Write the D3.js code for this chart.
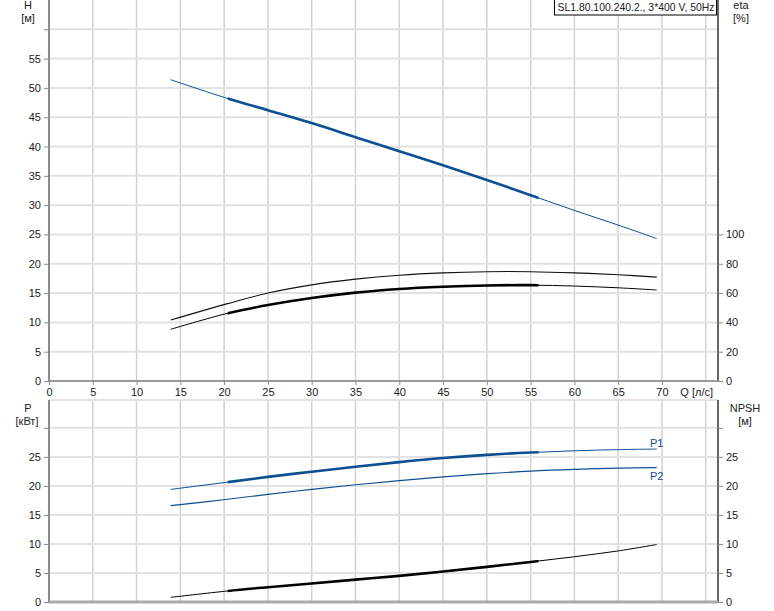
<!DOCTYPE html>
<html><head><meta charset="utf-8">
<script src="https://cdn.jsdelivr.net/npm/d3@7"></script>
<style>body{margin:0;background:#fff}svg{display:block}text{font-family:"Liberation Sans",Arial,sans-serif;font-size:11px;fill:#222}</style>
</head><body><svg id="c" width="774" height="611"></svg>
<script>
const title = "SL1.80.100.240.2., 3*400 V, 50Hz";
const qTicks = [0,5,10,15,20,25,30,35,40,45,50,55,60,65,70];
const hTicks = [0,5,10,15,20,25,30,35,40,45,50,55];
const etaTicks = [0,20,40,60,80,100];
const pTicks = [0,5,10,15,20,25];
const Q = [13.9,20.4,25,30,35,40,45,50,55,60,65,69.4];
const H = [51.4,48.2,46.2,44.0,41.6,39.2,36.8,34.3,31.7,29.1,26.6,24.3];
const etaUpper = [41.6,52.8,60.0,65.6,69.5,72.2,73.8,74.6,74.6,73.8,72.5,70.9];
const etaLower = [35.3,46.2,51.8,56.6,60.3,62.8,64.3,65.2,65.4,64.8,63.6,62.1];
const P1 = [19.4,20.65,21.55,22.45,23.3,24.1,24.8,25.35,25.75,26.05,26.25,26.35];
const P2 = [16.6,17.7,18.55,19.4,20.2,20.9,21.55,22.1,22.55,22.85,23.05,23.15];
const NPSH = [0.8,1.9,2.55,3.2,3.85,4.5,5.25,6.05,6.9,7.8,8.8,9.9];
const opRange = [20.4,55.9];

const svg = d3.select("#c");
const L = 49, R = 718;
const x = d3.scaleLinear().domain([0,76.4]).range([L,R]);
const yH = d3.scaleLinear().domain([0,65]).range([381,0]);
const yEta = d3.scaleLinear().domain([0,260]).range([381,0]);
const yP = d3.scaleLinear().domain([0,34.8]).range([602,400]);

const blue = "#0d4f93", gridV = "#d2d2d2", gridH = "#e2e2e2", axisC = "#8a8a8a";

function grid(yScale, top, bottom, hVals){
  const g = svg.append("g");
  g.selectAll(".v").data(qTicks.slice(1).concat([75])).enter().append("line")
    .attr("x1",d=>x(d)).attr("x2",d=>x(d)).attr("y1",top).attr("y2",bottom)
    .attr("stroke",gridV).attr("stroke-width",1.5);
  g.selectAll(".h").data(hVals).enter().append("line")
    .attr("x1",L).attr("x2",R).attr("y1",d=>yScale(d)).attr("y2",d=>yScale(d))
    .attr("stroke",gridH).attr("stroke-width",2);
}
grid(yH,0,381,[5,10,15,20,25,30,35,40,45,50,55,60]);
grid(yP,400,602,[5,10,15,20,25,30,34.8]);

// axes
const axT = svg.append("g");
axT.append("line").attr("x1",L).attr("x2",L).attr("y1",0).attr("y2",382).attr("stroke",axisC).attr("stroke-width",2);
axT.append("line").attr("x1",R).attr("x2",R).attr("y1",0).attr("y2",382).attr("stroke","#666").attr("stroke-width",2);
axT.append("line").attr("x1",L).attr("x2",R).attr("y1",381).attr("y2",381).attr("stroke","#999").attr("stroke-width",2);
svg.append("g").attr("transform",`translate(${L},0)`).call(d3.axisLeft(yH).tickValues(hTicks.concat([60])).tickSize(5).tickFormat(d=>d===60?"":d))
  .call(g=>{g.select(".domain").remove();g.selectAll("line").attr("stroke",axisC);g.selectAll("text").attr("x",-8).style("fill","#222").attr("font-size",11);});
svg.append("g").attr("transform",`translate(${R},0)`).call(d3.axisRight(yEta).tickValues(etaTicks).tickSize(5))
  .call(g=>{g.select(".domain").remove();g.selectAll("line").attr("stroke",axisC);g.selectAll("text").attr("x",8).style("fill","#222").attr("font-size",11);});
svg.append("g").attr("transform",`translate(0,381)`).call(d3.axisBottom(x).tickValues(qTicks).tickSize(4))
  .call(g=>{g.select(".domain").remove();g.selectAll("line").attr("stroke",axisC);g.selectAll("text").attr("y",7).style("fill","#222").attr("font-size",11);});

const axB = svg.append("g");
axB.append("line").attr("x1",L).attr("x2",L).attr("y1",400).attr("y2",603).attr("stroke",axisC).attr("stroke-width",2);
axB.append("line").attr("x1",R).attr("x2",R).attr("y1",400).attr("y2",603).attr("stroke","#666").attr("stroke-width",2);
axB.append("line").attr("x1",L).attr("x2",R).attr("y1",602).attr("y2",602).attr("stroke","#aaa").attr("stroke-width",3);
svg.append("g").attr("transform",`translate(${L},0)`).call(d3.axisLeft(yP).tickValues(pTicks.concat([30])).tickSize(5).tickFormat(d=>d===30?"":d))
  .call(g=>{g.select(".domain").remove();g.selectAll("line").attr("stroke",axisC);g.selectAll("text").attr("x",-8).style("fill","#222").attr("font-size",11);});
svg.append("g").attr("transform",`translate(${R},0)`).call(d3.axisRight(yP).tickValues(pTicks.concat([30])).tickSize(5).tickFormat(d=>d===30?"":d))
  .call(g=>{g.select(".domain").remove();g.selectAll("line").attr("stroke",axisC);g.selectAll("text").attr("x",8).style("fill","#222").attr("font-size",11);});

// axis titles
const t = (tx,xx,yy,anchor)=>svg.append("text").attr("x",xx).attr("y",yy).attr("text-anchor",anchor||"middle").text(tx);
t("H",28,9); t("[м]",28,22);
t("eta",741,9); t("[%]",741,22);
t("P",28,412); t("[кВт]",27,425);
t("NPSH",745,412); t("[м]",745,425);
t("Q [л/с]",713,396,"end");

// title box
const boxG = svg.append("g");
boxG.append("rect").attr("x",554.5).attr("y",-1).attr("width",162).attr("height",16)
  .attr("fill","#fff").attr("stroke","#000").attr("stroke-width",1);
boxG.append("text").attr("x",557.5).attr("y",11).attr("text-anchor","start")
  .attr("textLength",157).attr("lengthAdjust","spacingAndGlyphs").text(title);

// curves
const defs = svg.append("defs");
defs.append("clipPath").attr("id","op").append("rect")
  .attr("x",x(opRange[0])).attr("width",x(opRange[1])-x(opRange[0])).attr("y",0).attr("height",611);
function curve(vals, yScale, color, thick, w){
  const data = Q.map((q,i)=>[q,vals[i]]);
  const line = d3.line().x(d=>x(d[0])).y(d=>yScale(d[1])).curve(d3.curveCatmullRom.alpha(0.5));
  svg.append("path").attr("d",line(data)).attr("fill","none").attr("stroke",color).attr("stroke-width",w||1);
  if (thick) svg.append("path").attr("d",line(data)).attr("fill","none").attr("stroke",color).attr("stroke-width",2.6).attr("clip-path","url(#op)");
}
curve(H,yH,blue,true);
curve(etaUpper,yEta,"#111",false,1.1);
curve(etaLower,yEta,"#000",true);
curve(P1,yP,blue,true);
curve(P2,yP,blue,false,1.2);
curve(NPSH,yP,"#000",true);

svg.append("text").attr("x",650).attr("y",447).style("fill",blue).text("P1");
svg.append("text").attr("x",650).attr("y",480).style("fill",blue).text("P2");
</script></body></html>
